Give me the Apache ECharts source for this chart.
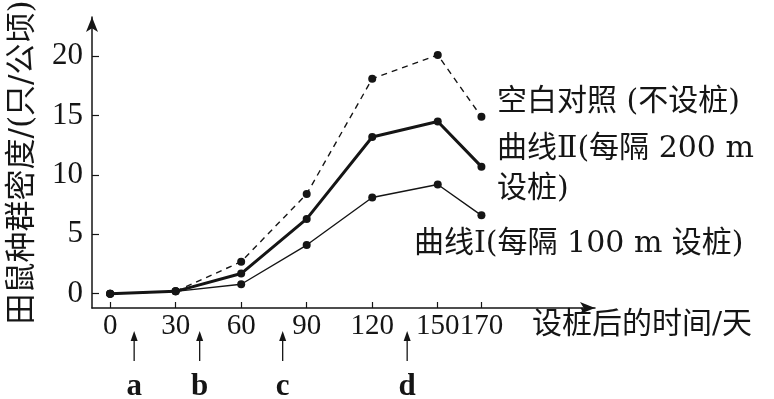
<!DOCTYPE html>
<html>
<head>
<meta charset="utf-8">
<script src="https://cdn.jsdelivr.net/npm/echarts@6/dist/echarts.min.js"></script>
<style>
  html, body { margin: 0; padding: 0; background: #fff; }
  #chart { width: 774px; height: 399px; }
</style>
</head>
<body>
<div id="chart"></div>
<script>
// 数据
var days = [0, 30, 60, 90, 120, 150, 170];
var controlData = [0, 0.2, 2.7, 8.4, 18.1, 20.1, 14.9];   // 空白对照
var curve2Data = [0, 0.2, 1.7, 6.3, 13.2, 14.5, 10.7];    // 曲线II
var curve1Data = [0, 0.2, 0.8, 4.1, 8.1, 9.2, 6.6];       // 曲线I
var yTicks = [0, 5, 10, 15, 20];
var markDays = [11, 41, 79, 136];
var markNames = ['a', 'b', 'c', 'd'];

var ink = '#151515';
var font = "'DejaVu Serif', 'Noto Sans CJK SC', serif";
var numFont = "'Liberation Serif', serif";

function pairs(vals) {
  return days.map(function (d, i) { return [d, vals[i]]; });
}

var chart = echarts.init(document.getElementById('chart'));

var option = {
  animation: false,
  backgroundColor: '#fff',
  grid: { left: 92, right: 179, top: 17, bottom: 91, containLabel: false, outerBoundsMode: 'none' },
  xAxis: {
    type: 'value',
    min: -8.3,
    max: 222,
    axisLine: { onZero: false, symbol: ['none', 'arrow'], symbolSize: [9, 15], lineStyle: { color: ink, width: 1.5 } },
    axisTick: { inside: true, length: 6, customValues: days, lineStyle: { color: ink, width: 1.2 } },
    axisLabel: {
      customValues: days, margin: 4, color: ink, fontSize: 29, fontFamily: numFont,
      showMinLabel: true, showMaxLabel: true, hideOverlap: false
    },
    splitLine: { show: false }
  },
  yAxis: {
    type: 'value',
    min: -1.2,
    max: 23.3,
    name: '田鼠种群密度/(只/公顷)',
    nameLocation: 'middle',
    nameRotate: 90,
    nameGap: 54,
    nameTextStyle: { color: ink, fontSize: 31, fontFamily: font },
    axisLine: { onZero: false, symbol: ['none', 'arrow'], symbolSize: [9, 15], lineStyle: { color: ink, width: 1.5 } },
    axisTick: { inside: true, length: 7, customValues: yTicks, lineStyle: { color: ink, width: 1.2 } },
    axisLabel: {
      customValues: yTicks, margin: 9, color: ink, fontSize: 31, fontFamily: numFont,
      showMinLabel: true, showMaxLabel: true
    },
    splitLine: { show: false }
  },
  series: [
    {
      name: '曲线I',
      type: 'line',
      data: pairs(curve1Data),
      symbol: 'circle',
      symbolSize: 8,
      itemStyle: { color: ink },
      lineStyle: { color: ink, width: 1.4 }
    },
    {
      name: '曲线II',
      type: 'line',
      data: pairs(curve2Data),
      symbol: 'circle',
      symbolSize: 8,
      itemStyle: { color: ink },
      lineStyle: { color: ink, width: 3 }
    },
    {
      name: '空白对照',
      type: 'line',
      data: pairs(controlData),
      symbol: 'circle',
      symbolSize: 8,
      itemStyle: { color: ink },
      lineStyle: { color: ink, width: 1.4, type: [6, 5] }
    }
  ]
};

chart.setOption(option);

// 文字说明和 a/b/c/d 箭头
var textStyle = { fill: ink, fontSize: 30, fontFamily: font };
var graphics = [
  { type: 'text', left: 497, top: 87, style: Object.assign({ text: '空白对照 (不设桩)' }, textStyle) },
  { type: 'text', left: 497, top: 134, style: Object.assign({ text: '曲线Ⅱ(每隔 200 m' }, textStyle) },
  { type: 'text', left: 497, top: 174, style: Object.assign({ text: '设桩)' }, textStyle) },
  { type: 'text', left: 414, top: 229, style: Object.assign({ text: '曲线Ⅰ(每隔 100 m 设桩)' }, textStyle) },
  { type: 'text', left: 532, top: 310, style: Object.assign({ text: '设桩后的时间/天' }, textStyle) }
];

markDays.forEach(function (d, i) {
  var x = chart.convertToPixel({ gridIndex: 0 }, [d, 0])[0];
  graphics.push({
    type: 'line',
    shape: { x1: x, y1: 361, x2: x, y2: 338 },
    style: { stroke: ink, lineWidth: 1.3 }
  });
  graphics.push({
    type: 'polygon',
    shape: { points: [[x, 331], [x - 3.5, 341], [x + 3.5, 341]] },
    style: { fill: ink }
  });
  graphics.push({
    type: 'text',
    x: x,
    y: 387,
    style: Object.assign({}, textStyle, { text: markNames[i], align: 'center', verticalAlign: 'middle', fontSize: 31, fontFamily: numFont, fontWeight: 'bold' })
  });
});

chart.setOption({ graphic: graphics });
</script>
</body>
</html>
